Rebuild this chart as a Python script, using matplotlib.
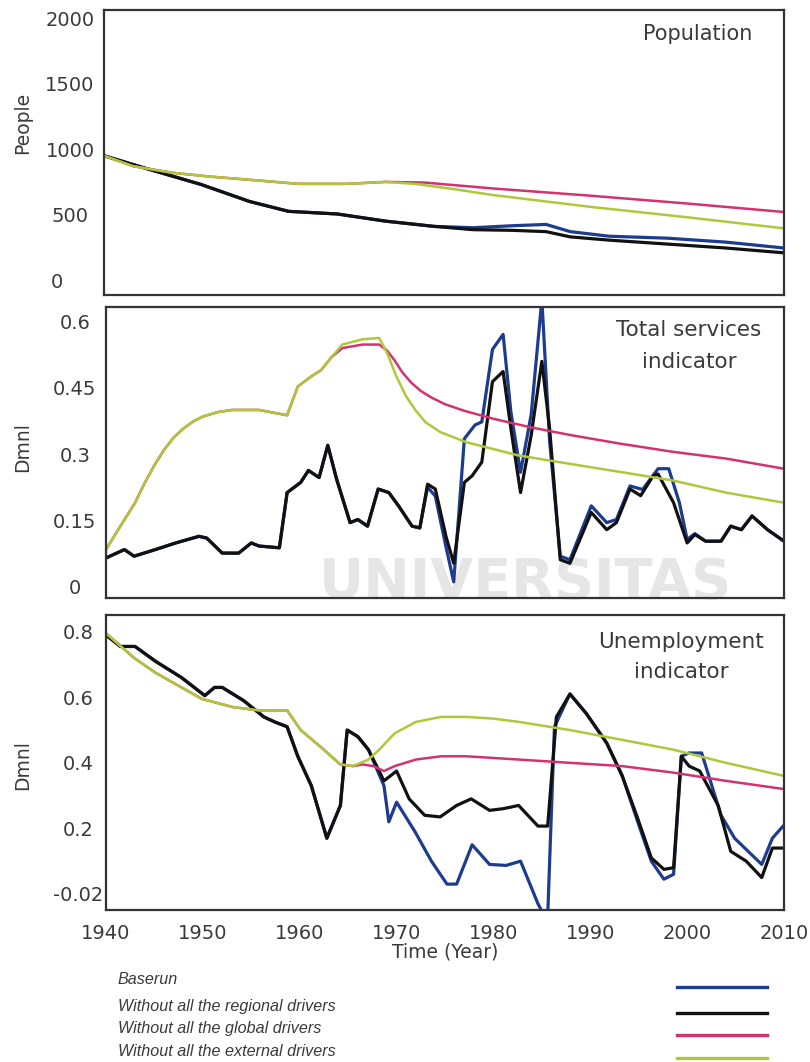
import matplotlib
matplotlib.use("Agg")
import matplotlib.pyplot as plt
from matplotlib import font_manager

# ---- Population (People) ----
pop_base_years = [1940, 1944, 1950, 1955, 1959, 1964, 1969, 1974, 1978, 1982, 1985.5, 1988, 1992, 1998, 2004, 2010]
pop_base = [950, 860, 730, 600, 525, 505, 450, 410, 400, 415, 425, 370, 335, 320, 290, 245]
pop_regional_years = [1940, 1944, 1950, 1955, 1959, 1964, 1969, 1974, 1978, 1982, 1985.5, 1988, 1992, 1998, 2004, 2010]
pop_regional = [950, 860, 730, 600, 525, 505, 450, 410, 385, 380, 370, 330, 305, 275, 245, 208]
pop_global_years = [1940, 1943, 1947, 1951, 1956, 1960, 1965, 1969, 1973, 1980, 1990, 2000, 2010]
pop_global = [950, 870, 820, 790, 760, 735, 735, 750, 745, 700, 645, 585, 520]
pop_external_years = [1940, 1943, 1947, 1951, 1956, 1960, 1965, 1969, 1972, 1976, 1980, 1990, 2000, 2010]
pop_external = [950, 870, 820, 790, 760, 735, 735, 750, 735, 695, 650, 560, 480, 395]

# ---- Total services indicator (Dmnl) ----
srv_regional_years = [1940, 1941.9, 1942.9, 1945.1, 1947.2, 1949.6, 1950.4, 1952.0, 1953.7, 1955.0, 1955.8,
                      1957.9, 1958.7, 1960.1, 1960.9, 1962.0, 1962.9, 1963.8, 1965.2, 1966.0, 1967.0, 1968.1,
                      1969.2, 1970.2, 1971.6, 1972.4, 1973.2, 1974.0, 1975.1, 1975.9, 1977.0, 1977.8, 1978.8,
                      1979.9, 1981.0, 1981.8, 1982.8, 1983.9, 1985.0, 1985.8, 1986.9, 1987.9, 1990.1, 1991.7,
                      1992.7, 1994.1, 1995.2, 1996.5, 1997.0, 1998.6, 2000.0, 2000.8, 2001.9, 2003.5, 2004.5,
                      2005.6, 2006.7, 2008.3, 2010]
srv_regional = [0.065, 0.084, 0.069, 0.084, 0.099, 0.114, 0.110, 0.076, 0.076, 0.099, 0.092,
                0.088, 0.213, 0.236, 0.263, 0.247, 0.320, 0.244, 0.145, 0.152, 0.137, 0.221,
                0.213, 0.183, 0.137, 0.133, 0.232, 0.221, 0.114, 0.053, 0.236, 0.251, 0.282,
                0.464, 0.487, 0.358, 0.213, 0.343, 0.510, 0.358, 0.061, 0.053, 0.168, 0.129,
                0.145, 0.221, 0.206, 0.251, 0.255, 0.190, 0.099, 0.118, 0.103, 0.103, 0.137,
                0.129, 0.160, 0.129, 0.103]
srv_base_years = [1940, 1941.9, 1942.9, 1945.1, 1947.2, 1949.6, 1950.4, 1952.0, 1953.7, 1955.0, 1955.8,
                  1957.9, 1958.7, 1960.1, 1960.9, 1962.0, 1962.9, 1963.8, 1965.2, 1966.0, 1967.0, 1968.1,
                  1969.2, 1970.2, 1971.6, 1972.4, 1973.2, 1974.0, 1975.1, 1975.9, 1977.0, 1978.1, 1978.8,
                  1979.9, 1981.0, 1981.8, 1982.8, 1983.9, 1985.0, 1985.8, 1986.9, 1987.9, 1990.1, 1991.7,
                  1992.7, 1994.1, 1995.4, 1997.0, 1998.1, 1999.2, 2000.0, 2000.8, 2001.9, 2003.5, 2004.5,
                  2005.6, 2006.7, 2008.3, 2010]
srv_base = [0.065, 0.084, 0.069, 0.084, 0.099, 0.114, 0.110, 0.076, 0.076, 0.099, 0.092,
            0.088, 0.213, 0.236, 0.263, 0.247, 0.320, 0.244, 0.145, 0.152, 0.137, 0.221,
            0.213, 0.183, 0.137, 0.133, 0.225, 0.205, 0.090, 0.011, 0.335, 0.366, 0.373,
            0.537, 0.571, 0.396, 0.259, 0.390, 0.650, 0.330, 0.069, 0.061, 0.183, 0.145,
            0.152, 0.228, 0.220, 0.267, 0.267, 0.190, 0.107, 0.120, 0.103, 0.103, 0.137,
            0.129, 0.160, 0.129, 0.103]
srv_global_years = [1940, 1941, 1942, 1943, 1944, 1945, 1946, 1947, 1948, 1949, 1950, 1951.5, 1953, 1955.8,
                    1958.7, 1959.8, 1961.2, 1962.2, 1963.3, 1964.4, 1966.5, 1968.2, 1969.0, 1969.8, 1970.6,
                    1971.5, 1972.5, 1973.6, 1975, 1977, 1980, 1984, 1988, 1993, 1998.6, 2004, 2010]
srv_global = [0.084, 0.120, 0.155, 0.190, 0.235, 0.275, 0.310, 0.338, 0.358, 0.374, 0.385, 0.395, 0.400, 0.400,
              0.388, 0.453, 0.476, 0.490, 0.520, 0.540, 0.548, 0.548, 0.535, 0.512, 0.485,
              0.462, 0.443, 0.428, 0.413, 0.398, 0.380, 0.360, 0.343, 0.324, 0.305, 0.290, 0.267]
srv_external_years = [1940, 1941, 1942, 1943, 1944, 1945, 1946, 1947, 1948, 1949, 1950, 1951.5, 1953, 1955.8,
                      1958.7, 1959.8, 1961.2, 1962.2, 1963.3, 1964.4, 1966.5, 1968.2, 1969.0, 1970.0, 1971.0,
                      1972.0, 1973.0, 1974.5, 1977.2, 1982.6, 1987.9, 1993.3, 1998.6, 2004, 2010]
srv_external = [0.084, 0.120, 0.155, 0.190, 0.235, 0.275, 0.310, 0.338, 0.358, 0.374, 0.385, 0.395, 0.400, 0.400,
                0.388, 0.453, 0.476, 0.490, 0.520, 0.548, 0.560, 0.563, 0.530, 0.475, 0.430,
                0.398, 0.372, 0.350, 0.327, 0.297, 0.278, 0.259, 0.240, 0.213, 0.190]

# ---- Unemployment indicator (Dmnl) ----
unemp_regional_years = [1940, 1941.5, 1943.0, 1945.1, 1947.8, 1950.2, 1951.2, 1952.0, 1954.2, 1956.3, 1957.4,
                        1958.7, 1959.8, 1961.2, 1962.8, 1964.2, 1964.9, 1966.0, 1967.1, 1968.7, 1970.0,
                        1971.3, 1972.9, 1974.5, 1976.2, 1977.7, 1979.6, 1981.0, 1982.6, 1984.6, 1985.6,
                        1986.5, 1987.9, 1989.6, 1991.7, 1993.3, 1994.9, 1996.3, 1997.6, 1998.6, 1999.4,
                        2000.2, 2001.3, 2003.2, 2004.5, 2006.1, 2007.7, 2008.8, 2010]
unemp_regional = [0.790, 0.755, 0.755, 0.710, 0.660, 0.605, 0.630, 0.630, 0.590, 0.540, 0.525,
                  0.510, 0.420, 0.330, 0.170, 0.270, 0.500, 0.480, 0.440, 0.345, 0.375,
                  0.290, 0.240, 0.235, 0.270, 0.290, 0.255, 0.260, 0.270, 0.207, 0.207,
                  0.540, 0.610, 0.550, 0.460, 0.360, 0.230, 0.110, 0.075, 0.080, 0.420,
                  0.390, 0.375, 0.270, 0.130, 0.100, 0.050, 0.140, 0.140]
unemp_base_years = [1940, 1941.5, 1943.0, 1945.1, 1947.8, 1950.2, 1951.2, 1952.0, 1954.2, 1956.3, 1957.4,
                    1958.7, 1959.8, 1961.2, 1962.8, 1964.2, 1964.9, 1966.0, 1967.1, 1968.7, 1969.2,
                    1970.0, 1971.9, 1973.6, 1975.2, 1976.2, 1977.8, 1979.6, 1981.3, 1982.8, 1984.6,
                    1985.3, 1985.6, 1986.3, 1987.9, 1989.6, 1991.7, 1993.3, 1994.9, 1996.3, 1997.6,
                    1998.6, 1999.4, 2000.2, 2001.5, 2003.5, 2004.9, 2007.7, 2008.8, 2010]
unemp_base = [0.790, 0.755, 0.755, 0.710, 0.660, 0.605, 0.630, 0.630, 0.590, 0.540, 0.525,
              0.510, 0.420, 0.330, 0.170, 0.270, 0.500, 0.480, 0.440, 0.330, 0.220,
              0.280, 0.190, 0.100, 0.030, 0.030, 0.150, 0.090, 0.087, 0.100, -0.030,
              -0.070, -0.070, 0.510, 0.610, 0.550, 0.460, 0.360, 0.220, 0.100, 0.045,
              0.060, 0.420, 0.430, 0.430, 0.240, 0.170, 0.090, 0.170, 0.210]
unemp_global_years = [1940, 1942.9, 1945.1, 1947.8, 1949.9, 1953.1, 1955.8, 1958.7, 1960.1, 1962.3, 1964.2,
                      1965.5, 1966.5, 1967.6, 1968.7, 1969.8, 1972, 1974.6, 1977.2, 1982.6, 1987.9,
                      1993.3, 1998.6, 2004, 2010]
unemp_global = [0.795, 0.720, 0.675, 0.630, 0.595, 0.570, 0.560, 0.560, 0.500, 0.445, 0.395,
                0.390, 0.395, 0.390, 0.375, 0.390, 0.410, 0.420, 0.420, 0.410, 0.400,
                0.390, 0.370, 0.345, 0.320]
unemp_external_years = [1940, 1942.9, 1945.1, 1947.8, 1949.9, 1953.1, 1955.8, 1958.7, 1960.1, 1962.3, 1964.2,
                        1965.5, 1967.1, 1968.2, 1969.8, 1972, 1974.6, 1977.2, 1980, 1982.6, 1987.9,
                        1993.3, 1998.6, 2004, 2010]
unemp_external = [0.795, 0.720, 0.675, 0.630, 0.595, 0.570, 0.560, 0.560, 0.500, 0.445, 0.395,
                  0.390, 0.410, 0.440, 0.490, 0.525, 0.540, 0.540, 0.535, 0.525, 0.500,
                  0.470, 0.440, 0.400, 0.360]

year_ticks = [1940, 1950, 1960, 1970, 1980, 1990, 2000, 2010]
pop_ticks = [0, 500, 1000, 1500, 2000]
srv_ticks = [0, 0.15, 0.3, 0.45, 0.6]
srv_ticklabels = ["0", "0.15", "0.3", "0.45", "0.6"]
unemp_ticks = [0, 0.2, 0.4, 0.6, 0.8]
unemp_ticklabels = ["-0.02", "0.2", "0.4", "0.6", "0.8"]

legend_labels = ["Baserun", "Without all the regional drivers",
                 "Without all the global drivers", "Without all the external drivers"]

C_BASE = "#1d3b8f"
C_REG = "#111111"
C_GLOB = "#d4326f"
C_EXT = "#afc73a"
TXT = "#3a3a3a"
SPINE = "#333333"
WMARK = "#e6e6e6"

W, H = 810, 1062
plt.rcParams["font.family"] = ["DejaVu Sans"]
fig = plt.figure(figsize=(W / 100, H / 100), dpi=100)


def ftext(x, y, s, **kw):
    # x, y in figure pixels, y measured from the top
    return fig.text(x / W, 1 - y / H, s, **kw)


def px_axes(left, top, right, bottom):
    ax = fig.add_axes([left / W, 1 - bottom / H, (right - left) / W, (bottom - top) / H])
    ax.patch.set_alpha(0)
    return ax


def style(ax, ylim, yticks, ylabels, pad_pt, show_x):
    ax.set_xlim(1940, 2010)
    ax.set_ylim(*ylim)
    ax.set_yticks(yticks)
    ax.set_yticklabels(ylabels)
    ax.set_xticks(year_ticks)
    ax.tick_params(axis="y", length=0, pad=pad_pt, labelsize=14, labelcolor=TXT)
    for lab in ax.get_yticklabels():
        lab.set_horizontalalignment("center")
    if show_x:
        ax.tick_params(axis="x", length=0, pad=10, labelsize=14, labelcolor=TXT)
    else:
        ax.tick_params(axis="x", length=0, labelbottom=False)
    for s in ax.spines.values():
        s.set_color(SPINE)
        s.set_linewidth(1.6)


def draw(ax, series):
    for (xs, ys, c, lw) in series:
        ax.plot(xs, ys, color=c, lw=lw, solid_joinstyle="round", solid_capstyle="round")


# faint watermark behind the panels
ftext(525, 583, "UNIVERSITAS", fontsize=40, fontweight="bold", color=WMARK, ha="center", va="center", zorder=-2)

ax1 = px_axes(104, 10, 784, 295)
draw(ax1, [(pop_base_years, pop_base, C_BASE, 2.3),
           (pop_regional_years, pop_regional, C_REG, 2.3),
           (pop_global_years, pop_global, C_GLOB, 1.8),
           (pop_external_years, pop_external, C_EXT, 1.8)])
style(ax1, (-114, 2063), pop_ticks, [str(v) for v in pop_ticks], 24.5, False)
ax1.yaxis.get_major_ticks()[0].set_pad(34)

ax2 = px_axes(106, 307, 784, 598)
draw(ax2, [(srv_base_years, srv_base, C_BASE, 2.3),
           (srv_regional_years, srv_regional, C_REG, 2.3),
           (srv_global_years, srv_global, C_GLOB, 1.8),
           (srv_external_years, srv_external, C_EXT, 1.8)])
style(ax2, (-0.0256, 0.633), srv_ticks, srv_ticklabels, 22.5, False)

ax3 = px_axes(106, 615, 784, 910)
draw(ax3, [(unemp_base_years, unemp_base, C_BASE, 2.3),
           (unemp_regional_years, unemp_regional, C_REG, 2.3),
           (unemp_global_years, unemp_global, C_GLOB, 1.8),
           (unemp_external_years, unemp_external, C_EXT, 1.8)])
style(ax3, (-0.049, 0.851), unemp_ticks, unemp_ticklabels, 20, True)

ftext(698, 34, "Population", fontsize=15, color=TXT, ha="center", va="center")
ftext(689, 330, "Total services", fontsize=15.5, color=TXT, ha="center", va="center")
ftext(689, 362, "indicator", fontsize=15.5, color=TXT, ha="center", va="center")
ftext(681, 642, "Unemployment", fontsize=15.5, color=TXT, ha="center", va="center")
ftext(681, 672, "indicator", fontsize=15.5, color=TXT, ha="center", va="center")

ftext(23, 123, "People", fontsize=13.5, color=TXT, rotation=90, ha="center", va="center")
ftext(23, 447, "Dmnl", fontsize=13.5, color=TXT, rotation=90, ha="center", va="center")
ftext(23, 765, "Dmnl", fontsize=13.5, color=TXT, rotation=90, ha="center", va="center")
ftext(445, 952, "Time (Year)", fontsize=13.5, color=TXT, ha="center", va="center")

# legend: italic labels on the left, line samples on the right
try:
    font_manager.findfont(font_manager.FontProperties(family="Liberation Sans Narrow", style="italic"),
                          fallback_to_default=False)
    leg_family, leg_size = "Liberation Sans Narrow", 13.5
except ValueError:
    leg_family, leg_size = "Liberation Sans", 11.6

leg_text_y = [980, 1006, 1028, 1051]
leg_line_y = [987, 1013, 1035, 1058]
leg_colors = [C_BASE, C_REG, C_GLOB, C_EXT]
for lab, ty, ly, c in zip(legend_labels, leg_text_y, leg_line_y, leg_colors):
    ftext(118, ty, lab, fontsize=leg_size, family=leg_family, style="italic", color=TXT,
          ha="left", va="center")
    fig.add_artist(plt.Line2D([677 / W, 767 / W], [1 - ly / H, 1 - ly / H], color=c, lw=2.4,
                              transform=fig.transFigure))

fig.savefig("out.png", dpi=100)
